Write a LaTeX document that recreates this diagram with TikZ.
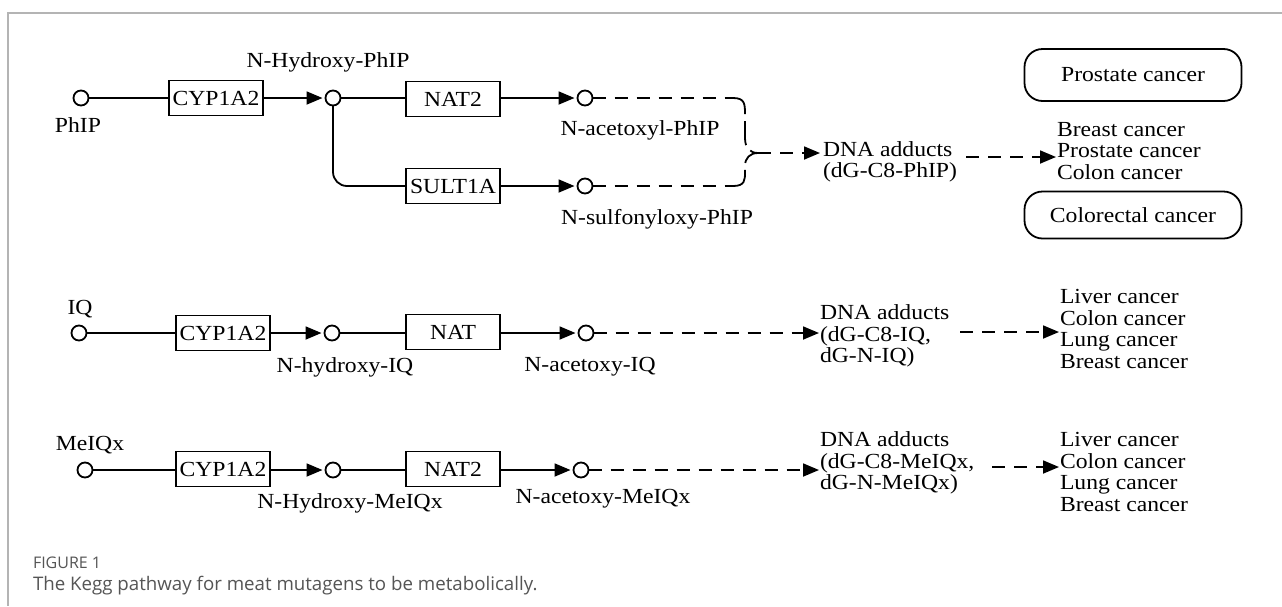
\documentclass[tikz,border=0pt]{standalone}
\usepackage{fontspec}
\setmainfont{Liberation Serif}[FakeStretch=1.1]
\newfontfamily\capfont{Open Sans}
\usetikzlibrary{arrows.meta,calc}
\definecolor{capgray}{HTML}{555555}
\definecolor{framegray}{HTML}{B4B4B4}
\begin{document}
\begin{tikzpicture}[x=1pt,y=-1pt,
 every node/.style={inner sep=0pt, outer sep=0pt, font=\fontsize{21.5}{21.5}\selectfont},
 met/.style={circle, draw, line width=1.8pt, minimum size=15pt},
 enz/.style={draw, line width=1.8pt, minimum width=94pt, minimum height=35pt},
 lst/.style={align=left, anchor=west},
 dis/.style={draw, line width=1.8pt, rounded corners=18pt, minimum width=217pt},
 conn/.style={line width=1.8pt},
 dl/.style={line width=1.8pt, dash pattern=on 13pt off 9pt},
 brace/.style={line width=1.8pt, dash pattern=on 24pt off 7pt},
 arr/.style={-{Triangle[length=16pt,width=13pt]}, shorten >=3pt},
 arrt/.style={-{Triangle[length=16pt,width=13pt]}, shorten >=1pt},
]
\useasboundingbox (0,0) rectangle (1282,606);
\fill[white] (0,0) rectangle (1282,606);
% frame
\draw[framegray, line width=1.2pt] (1282,13) -- (8,13) -- (8,606);

% ---------- Row 1: PhIP ----------
\node[met] (phip) at (81,98) {};
\node (phipL) at (78,125) {PhIP};
\node[enz] (cypA) at (216,98) {CYP1A2};
\node[met] (nhp) at (333,98) {};
\node (nhpL) at (328,62) {N-Hydroxy-PhIP};
\node[enz] (nat2A) at (453,99) {NAT2};
\node[met] (nac) at (585,98) {};
\node (nacL) at (640,130) {N-acetoxyl-PhIP};
\node[enz] (sult) at (453,186) {SULT1A};
\node[met] (nsul) at (585,186) {};
\node (nsulL) at (657,219) {N-sulfonyloxy-PhIP};
\coordinate (mrg) at (758,153);
\coordinate (bu) at (733,98);
\coordinate (bl) at (733,186);
\node[lst] (dna1) at (823,162) {DNA adducts\\(dG-C8-PhIP)};
\node[lst] (can1) at (1057,151) {Breast cancer\\Prostate cancer\\Colon cancer};
\node[dis, minimum height=52pt] (pros) at (1133,75) {Prostate cancer};
\node[dis, minimum height=47pt] (colr) at (1133,215) {Colorectal cancer};

\draw[conn] (phip) -- (cypA);
\draw[conn,arr] (cypA) -- (nhp);
\draw[conn] (nhp) -- (nhp -| nat2A.west);
\draw[conn,rounded corners=14pt] (nhp.south) |- (sult.west);
\draw[conn,arr] (nat2A.east |- nac) -- (nac);
\draw[conn,arr] (sult) -- (nsul);
\draw[dl] (nac.east) -- (bu);
\draw[dl] (nsul.east) -- (bl);
\draw[brace] (bu) .. controls (745,98) and (745,104) .. (745,115)
  -- (745,138) .. controls (745,148) and (750,153) .. (mrg);
\draw[brace] (bl) .. controls (745,186) and (745,180) .. (745,172)
  -- (745,166) .. controls (745,158) and (750,153) .. (mrg);
\draw[dl,arr] (mrg) -- (mrg -| dna1.west);
\draw[dl,arrt] ([xshift=9pt,yshift=5pt]dna1.east) -- ([yshift=5pt]dna1.east -| can1.west);

% ---------- Row 2: IQ ----------
\node[met] (iq) at (79,333) {};
\node (iqL) at (80,309) {IQ};
\node[enz] (cypB) at (223,333) {CYP1A2};
\node[met] (nhiq) at (332,333) {};
\node (nhiqL) at (345,367) {N-hydroxy-IQ};
\node[enz] (nat) at (453,332) {NAT};
\node[met] (naiq) at (586,333) {};
\node (naiqL) at (590,367) {N-acetoxy-IQ};
\node[lst] (dna2) at (820,336) {DNA adducts\\(dG-C8-IQ,\\dG-N-IQ)};
\node[lst] (can2) at (1060,329) {Liver cancer\\Colon cancer\\Lung cancer\\Breast cancer};

\draw[conn] (iq) -- (cypB);
\draw[conn,arr] (cypB) -- (nhiq);
\draw[conn] (nhiq) -- (nhiq -| nat.west);
\draw[conn,arr] (nat.east |- naiq) -- (naiq);
\draw[dl,arrt] (naiq.east) -- (naiq.east -| dna2.west);
\draw[dl,arrt] ([xshift=11pt,yshift=4pt]dna2.east) -- ([yshift=4pt]dna2.east -| can2.west);

% ---------- Row 3: MeIQx ----------
\node[met] (mq) at (85,470) {};
\node (mqL) at (90,445) {MeIQx};
\node[enz] (cypC) at (223,469) {CYP1A2};
\node[met] (nhm) at (333,470) {};
\node (nhmL) at (350,503) {N-Hydroxy-MeIQx};
\node[enz] (nat2C) at (453,469) {NAT2};
\node[met] (nam) at (581,470) {};
\node (namL) at (603,499) {N-acetoxy-MeIQx};
\node[lst] (dna3) at (820,463) {DNA adducts\\(dG-C8-MeIQx,\\dG-N-MeIQx)};
\node[lst] (can3) at (1060,472) {Liver cancer\\Colon cancer\\Lung cancer\\Breast cancer};

\draw[conn] (mq) -- (mq -| cypC.west);
\draw[conn,arr] (cypC.east |- nhm) -- (nhm);
\draw[conn] (nhm) -- (nhm -| nat2C.west);
\draw[conn,arr] (nat2C.east |- nam) -- (nam);
\draw[dl,arrt] (nam.east) -- (nam.east -| dna3.west);
\draw[dl,arrt] ([xshift=18pt,yshift=-4pt]dna3.east) -- ([yshift=-4pt]dna3.east -| can3.west);

% ---------- Caption ----------
\node[anchor=west, font=\capfont\fontsize{16}{18}\selectfont, text=capgray] (fig) at (33,563) {FIGURE 1};
\node[anchor=west, font=\capfont\fontsize{18.7}{22}\selectfont, text=capgray] (cap) at (33,586) {The Kegg pathway for meat mutagens to be metabolically.};
\end{tikzpicture}
\end{document}
